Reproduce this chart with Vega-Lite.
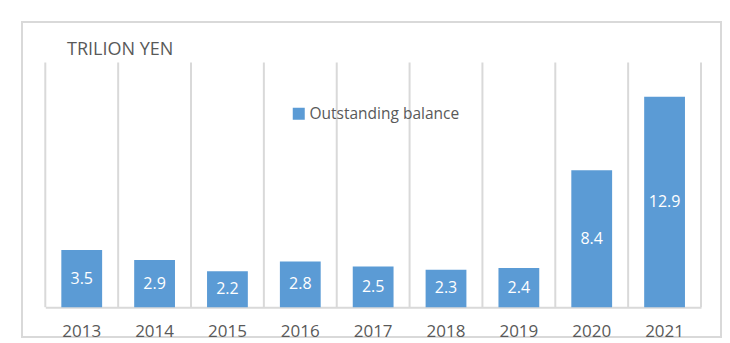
{
  "$schema": "https://vega.github.io/schema/vega-lite/v6.json",
  "width": 699,
  "height": 315,
  "autosize": {"type": "none"},
  "padding": {"left": 22, "top": 22, "right": 9, "bottom": 6},
  "background": "white",
  "title": {
    "text": "TRILION YEN",
    "anchor": "start",
    "frame": "group",
    "orient": "top",
    "offset": 0,
    "dx": 45,
    "dy": 51,
    "baseline": "alphabetic",
    "font": "Open Sans",
    "fontSize": 18,
    "fontWeight": "normal",
    "color": "#595959"
  },
  "data": {
    "values": [
      {"year": "2013", "v": 3.5, "s": "Outstanding balance"},
      {"year": "2014", "v": 2.9, "s": "Outstanding balance"},
      {"year": "2015", "v": 2.2, "s": "Outstanding balance"},
      {"year": "2016", "v": 2.8, "s": "Outstanding balance"},
      {"year": "2017", "v": 2.5, "s": "Outstanding balance"},
      {"year": "2018", "v": 2.3, "s": "Outstanding balance"},
      {"year": "2019", "v": 2.4, "s": "Outstanding balance"},
      {"year": "2020", "v": 8.4, "s": "Outstanding balance"},
      {"year": "2021", "v": 12.9, "s": "Outstanding balance"}
    ]
  },
  "encoding": {
    "x": {
      "field": "year",
      "type": "nominal",
      "sort": null,
      "scale": {"range": [23.3, 679], "paddingInner": 0, "paddingOuter": 0},
      "axis": {
        "title": null,
        "grid": false,
        "domainColor": "#D9D9D9",
        "domainWidth": 2,
        "ticks": false,
        "tickSize": 0,
        "labelPadding": 16.5,
        "labelFont": "Open Sans",
        "labelFontSize": 17,
        "labelColor": "#595959",
        "labelAngle": 0,
        "offset": -29.8
      }
    }
  },
  "layer": [
    {
      "mark": {"type": "rule", "color": "#D9D9D9", "strokeWidth": 2},
      "encoding": {
        "x": {
          "field": "year",
          "type": "nominal",
          "sort": null,
          "bandPosition": 0,
          "scale": {"range": [23.3, 679], "paddingInner": 0, "paddingOuter": 0},
          "axis": {
            "title": null,
            "grid": false,
            "domainColor": "#D9D9D9",
            "domainWidth": 2,
            "ticks": false,
            "tickSize": 0,
            "labelPadding": 16.5,
            "labelFont": "Open Sans",
            "labelFontSize": 17,
            "labelColor": "#595959",
            "labelAngle": 0,
            "offset": -29.8
          }
        },
        "y": {
          "datum": 0,
          "type": "quantitative",
          "scale": {"domain": [0, 15], "range": [285.2, 40.5], "nice": false},
          "axis": null
        },
        "y2": {"datum": 15}
      }
    },
    {
      "transform": [{"filter": "datum.year == '2021'"}],
      "mark": {"type": "rule", "color": "#D9D9D9", "strokeWidth": 2},
      "encoding": {
        "x": {
          "field": "year",
          "type": "nominal",
          "sort": null,
          "bandPosition": 1,
          "scale": {"range": [23.3, 679], "paddingInner": 0, "paddingOuter": 0},
          "axis": {
            "title": null,
            "grid": false,
            "domainColor": "#D9D9D9",
            "domainWidth": 2,
            "ticks": false,
            "tickSize": 0,
            "labelPadding": 16.5,
            "labelFont": "Open Sans",
            "labelFontSize": 17,
            "labelColor": "#595959",
            "labelAngle": 0,
            "offset": -29.8
          }
        },
        "y": {
          "datum": 0,
          "type": "quantitative",
          "scale": {"domain": [0, 15], "range": [285.2, 40.5], "nice": false},
          "axis": null
        },
        "y2": {"datum": 15}
      }
    },
    {
      "mark": {"type": "bar", "width": {"band": 0.56}},
      "encoding": {
        "y": {
          "field": "v",
          "type": "quantitative",
          "scale": {"domain": [0, 15], "range": [285.2, 40.5], "nice": false},
          "axis": null
        },
        "color": {
          "field": "s",
          "type": "nominal",
          "scale": {"range": ["#5B9BD5"]},
          "legend": {
            "title": null,
            "orient": "none",
            "legendX": 269,
            "legendY": 84,
            "symbolType": "square",
            "symbolSize": 144,
            "symbolStrokeWidth": 0,
            "labelFont": "Open Sans",
            "labelFontSize": 15.5,
            "labelColor": "#595959",
            "labelOffset": 3,
            "padding": 0
          }
        }
      }
    },
    {
      "mark": {"type": "text", "color": "white", "font": "Open Sans", "fontSize": 16, "baseline": "middle"},
      "encoding": {
        "y": {
          "field": "v",
          "type": "quantitative",
          "scale": {"domain": [0, 30], "range": [285.2, 40.5], "nice": false},
          "axis": null
        },
        "text": {"field": "v", "type": "quantitative", "format": ".1f"}
      }
    }
  ],
  "resolve": {"scale": {"y": "independent"}},
  "config": {
    "view": {"stroke": "#D9D9D9", "strokeWidth": 2}
  }
}
